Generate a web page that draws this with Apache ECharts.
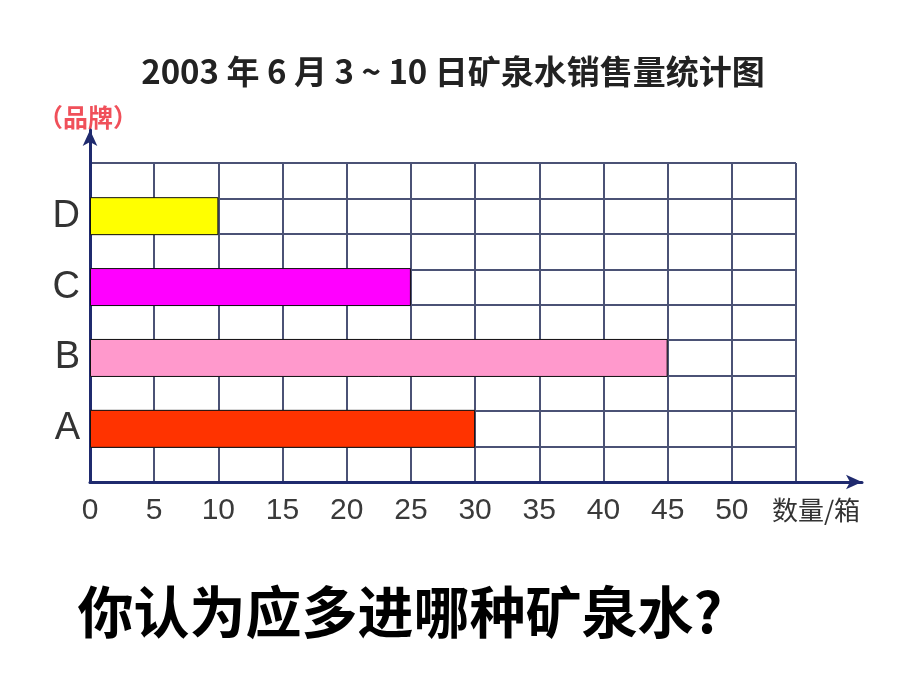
<!DOCTYPE html>
<html><head><meta charset="utf-8">
<script src="https://cdn.jsdelivr.net/npm/echarts@6/dist/echarts.min.js"></script>
<style>html,body{margin:0;padding:0;background:#fff}#c{width:920px;height:690px}</style>
</head><body><div id="c"></div>
<script>
// Data
const brands = ['A', 'B', 'C', 'D'];
const sales = [30, 45, 25, 10];
const barColors = ['#FF3300', '#FF99CC', '#FF00FF', '#FFFF00'];
const xTicks = [0, 5, 10, 15, 20, 25, 30, 35, 40, 45, 50];
const titleText = '2003 年 6 月 3 ~ 10 日矿泉水销售量统计图';
const yName = '（品牌）';
const xName = '数量/箱';
const question = '你认为应多进哪种矿泉水?';

// 9 rows: blank rows between the brands
const rows = [];
const rowData = [];
brands.forEach((b, i) => {
  rows.push('gap' + i); rowData.push(null);
  rows.push(b); rowData.push({ value: sales[i], itemStyle: { color: barColors[i] } });
});
rows.push('gapTop'); rowData.push(null);

const narrow = "'Liberation Sans Narrow', 'Liberation Sans', sans-serif";
const gridColor = '#4b5275';
const axisColor = '#1f2a6e';

const chart = echarts.init(document.getElementById('c'), null, { renderer: 'canvas' });
chart.setOption({
  animation: false,
  backgroundColor: '#ffffff',
  grid: [
    { left: 90, right: 124, top: 163, bottom: 208 },
    { left: 90, right: 58, top: 130, bottom: 208 }
  ],
  xAxis: [
    {
      type: 'value', gridIndex: 0, min: 0, max: 55, interval: 5,
      axisLine: { show: false }, axisTick: { show: false },
      splitLine: { show: true, lineStyle: { color: gridColor, width: 2 } },
      axisLabel: {
        margin: 14, fontSize: 30, color: '#3a3a3a', fontFamily: narrow,
        formatter: v => (xTicks.indexOf(v) >= 0 ? String(v) : '')
      }
    },
    {
      type: 'value', gridIndex: 1, min: 0, max: 1,
      axisLine: { show: true, symbol: ['none', 'arrow'], symbolSize: [11, 16], lineStyle: { color: axisColor, width: 3 } },
      axisTick: { show: false }, axisLabel: { show: false }, splitLine: { show: false }
    }
  ],
  yAxis: [
    {
      type: 'category', gridIndex: 0, data: rows,
      axisLine: { show: false }, axisTick: { show: false },
      splitLine: { show: true, interval: 0, lineStyle: { color: gridColor, width: 2 } },
      axisLabel: {
        interval: 0, margin: 10, fontSize: 38, color: '#333', fontFamily: narrow,
        formatter: v => (brands.indexOf(v) >= 0 ? v : '')
      }
    },
    {
      type: 'value', gridIndex: 1, min: 0, max: 1,
      axisLine: { show: true, symbol: ['none', 'arrow'], symbolSize: [11, 16], lineStyle: { color: axisColor, width: 3 } },
      axisTick: { show: false }, axisLabel: { show: false }, splitLine: { show: false }
    }
  ],
  series: [{
    type: 'bar', xAxisIndex: 0, yAxisIndex: 0,
    data: rowData, barWidth: 38,
    itemStyle: { borderColor: '#111', borderWidth: 1 },
    z: 3
  }],
  graphic: [
    { type: 'text', x: 453, y: 71, style: { text: titleText, font: "bold 33px 'Noto Sans CJK SC', sans-serif", fill: '#222', textAlign: 'center', textVerticalAlign: 'middle' } },
    { type: 'text', x: 88, y: 117, style: { text: yName, font: "bold 25px 'Noto Sans CJK SC', sans-serif", fill: '#F0505A', textAlign: 'center', textVerticalAlign: 'middle' } },
    { type: 'text', x: 816, y: 510, style: { text: xName, font: "26px 'Noto Sans CJK SC', sans-serif", fill: '#333', textAlign: 'center', textVerticalAlign: 'middle' } },
    { type: 'text', x: 400, y: 612, style: { text: question, font: "bold 56px 'Noto Sans CJK SC', sans-serif", fill: '#000', textAlign: 'center', textVerticalAlign: 'middle' } }
  ]
});
</script></body></html>
